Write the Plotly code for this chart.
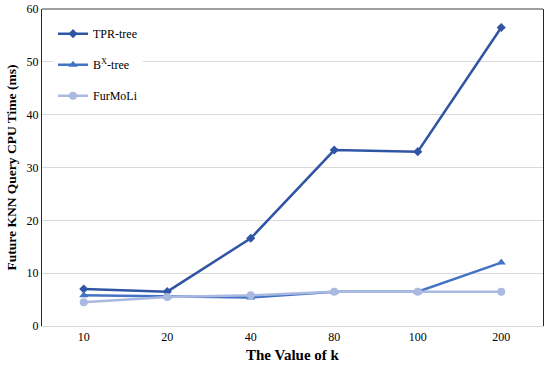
import plotly.graph_objects as go

categories = ["10", "20", "40", "80", "100", "200"]
tpr_tree = [7.0, 6.5, 16.6, 33.3, 33.0, 56.5]
bx_tree = [5.8, 5.6, 5.4, 6.5, 6.5, 12.0]
furmoli = [4.5, 5.5, 5.8, 6.5, 6.5, 6.5]
y_ticks = [0, 10, 20, 30, 40, 50, 60]

font_family = "Liberation Serif, Times New Roman, serif"

fig = go.Figure()
fig.add_trace(go.Scatter(x=categories, y=tpr_tree, name="TPR-tree", mode="lines+markers",
                         legendgroup="a",
                         line=dict(color="#2F55A4", width=2.5),
                         marker=dict(symbol="diamond", size=7, color="#2F55A4")))
fig.add_trace(go.Scatter(x=categories, y=bx_tree, name="B<sup>X</sup>-tree", mode="lines+markers",
                         legendgroup="b",
                         line=dict(color="#4472C4", width=2.5),
                         marker=dict(symbol="triangle-up", size=8, color="#4472C4")))
fig.add_trace(go.Scatter(x=categories, y=furmoli, name="FurMoLi", mode="lines+markers",
                         legendgroup="c",
                         line=dict(color="#A9B9E0", width=2.5),
                         marker=dict(symbol="circle", size=8, color="#A9B9E0")))

fig.update_layout(
    width=550, height=369,
    margin=dict(l=42, r=7, t=9, b=43),
    paper_bgcolor="white", plot_bgcolor="white",
    font=dict(family=font_family, size=12, color="#000000"),
    showlegend=True,
    legend=dict(x=0.022, y=0.968, xanchor="left", yanchor="top",
                bgcolor="white", font=dict(size=12, family=font_family),
                tracegroupgap=12, itemwidth=30),
    xaxis=dict(type="category", range=[-0.5, 5.5], showgrid=False, automargin=False,
               showline=True, linecolor="#d9d9d9", linewidth=1,
               ticks="", tickfont=dict(size=12),
               title=dict(text="<b>The Value of k</b>", font=dict(size=15), standoff=6)),
    yaxis=dict(range=[0, 60], tickvals=y_ticks, showgrid=True, gridcolor="#d9d9d9",
               automargin=False,
               zeroline=False, showline=True, linecolor="#262626", linewidth=1.2,
               mirror=True, ticks="", tickfont=dict(size=12),
               title=dict(text="<b>Future KNN Query CPU Time (ms)</b>", font=dict(size=13.5), standoff=6)),
    shapes=[dict(type="line", xref="paper", yref="paper", x0=0, x1=1, y0=1, y1=1,
                 line=dict(color="#404040", width=1.2))],
)

fig.write_html("out.html", config={"displayModeBar": False},
               post_script="document.body.style.margin='0';document.body.style.padding='0';")
